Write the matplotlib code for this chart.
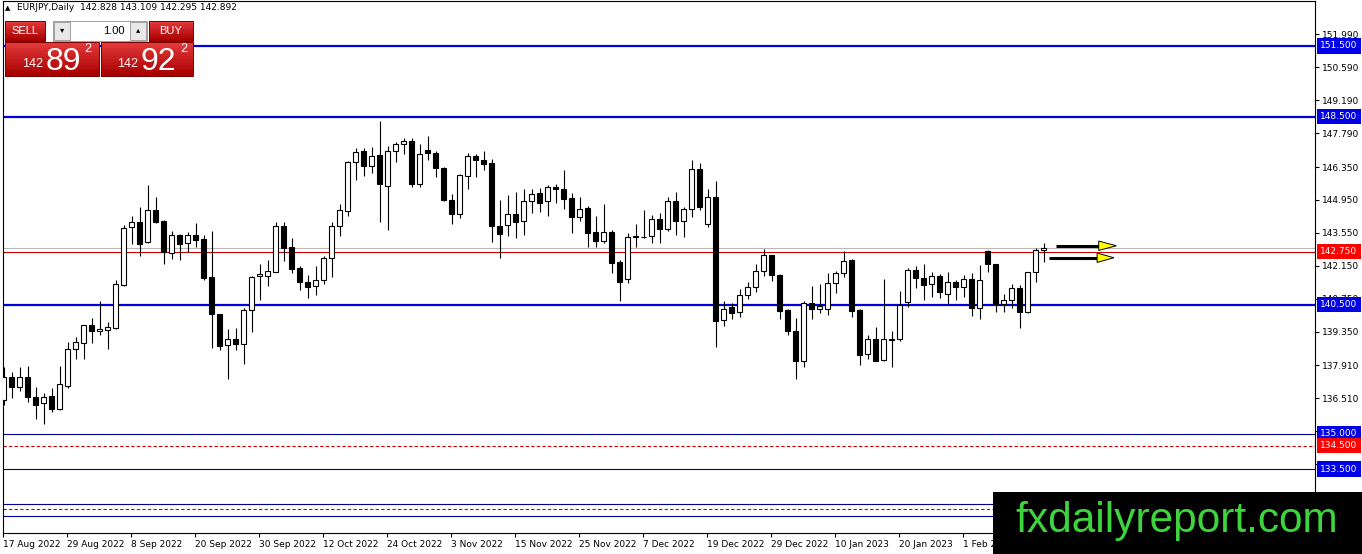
import matplotlib
matplotlib.use("Agg")
import matplotlib.pyplot as plt
from matplotlib.patches import Rectangle, Polygon
from matplotlib.transforms import blended_transform_factory
import numpy as np

# ---------------- data ----------------
opens = [136.44,137.40,136.98,137.40,136.58,136.29,136.61,136.07,137.03,138.59,
         138.88,139.61,139.36,139.40,139.50,141.35,143.78,144.00,143.16,144.51,
         144.05,142.69,143.46,143.12,143.46,143.29,141.67,140.08,138.78,139.03,
         138.80,140.25,141.70,141.73,141.90,143.83,142.95,142.04,141.44,141.27,
         141.53,142.46,143.83,144.48,146.55,147.03,146.38,146.86,145.53,147.03,
         147.32,147.46,145.64,147.09,146.95,146.30,144.96,144.37,145.95,146.80,
         146.66,146.52,143.83,143.88,144.37,144.04,144.89,145.23,144.89,145.49,
         145.40,145.03,144.21,144.61,143.58,143.19,143.58,142.31,141.60,143.41,
         143.39,143.41,144.15,143.73,144.92,144.04,144.58,146.28,143.93,145.09,
         139.84,140.38,140.18,140.92,141.23,141.91,142.59,141.77,140.27,139.39,
         138.08,140.55,140.30,140.32,141.40,141.83,142.39,140.27,138.39,139.05,
         138.14,139.03,139.02,140.62,141.98,141.64,141.36,141.73,140.93,141.44,
         141.24,141.58,140.36,142.78,142.21,140.54,140.68,141.22,140.17,141.87,
         142.828]
highs = [137.83,137.61,137.85,137.88,137.00,136.75,136.95,137.88,138.92,139.13,
         139.64,139.91,140.66,139.76,141.55,143.88,144.25,144.65,145.59,145.07,
         144.08,143.63,143.49,143.57,143.97,143.46,143.63,140.11,139.46,139.49,
         140.34,141.70,142.24,142.38,144.00,144.00,143.34,142.12,141.76,142.12,
         142.55,144.00,144.76,146.61,147.15,147.17,147.20,148.31,147.26,147.40,
         147.57,147.60,147.32,147.66,147.03,146.35,145.19,146.04,146.95,146.92,
         147.03,146.69,144.93,145.16,145.27,145.40,145.40,145.46,145.60,145.63,
         146.22,145.26,145.06,144.69,144.27,144.78,143.67,142.39,143.56,143.93,
         144.52,144.29,144.38,145.09,145.29,144.66,146.65,146.51,145.40,145.74,
         140.66,140.58,141.15,141.46,142.22,142.85,142.62,141.80,140.29,139.93,
         140.66,141.29,141.37,141.83,141.94,142.76,142.42,140.29,139.22,139.53,
         141.60,139.39,141.09,142.04,142.12,142.21,141.87,141.78,141.90,141.53,
         141.76,141.84,142.18,142.80,142.24,140.93,141.36,141.33,141.90,142.89,
         143.109]
lows = [136.22,136.51,136.83,136.34,135.64,135.42,135.94,136.01,136.93,138.20,
        138.20,138.88,139.19,138.62,139.47,141.28,143.07,142.55,143.13,143.95,
        142.21,142.44,142.41,142.72,142.95,141.56,138.63,138.58,137.33,138.55,
        137.98,139.34,140.70,141.30,141.88,142.35,141.84,141.13,140.79,140.90,
        141.36,141.67,143.40,144.28,145.78,145.98,146.10,144.02,143.68,146.55,
        146.89,145.50,145.50,146.63,145.93,144.90,143.94,144.17,145.41,145.93,
        146.21,143.15,142.49,143.40,143.34,143.47,144.38,144.44,144.27,144.80,
        144.55,143.56,144.07,142.96,142.93,143.10,141.83,140.66,141.43,142.96,
        143.33,143.13,143.10,143.61,143.44,143.39,144.21,144.52,143.81,138.71,
        139.58,139.87,139.98,140.72,141.03,141.71,141.49,139.90,139.22,137.32,
        137.83,139.90,140.15,140.07,141.00,141.68,139.95,137.94,138.17,138.08,
        138.11,137.86,138.96,140.39,141.19,140.68,140.82,140.76,140.51,140.68,
        140.82,139.99,139.88,141.90,140.19,140.19,140.36,139.49,140.14,141.44,
        142.295]
closes = [137.40,136.98,137.40,136.58,136.24,136.58,136.07,137.12,138.59,138.90,
          139.61,139.36,139.47,139.53,141.37,143.76,144.00,143.06,144.51,144.03,
          142.75,143.46,143.06,143.46,143.23,141.64,140.08,138.75,139.03,138.80,
          140.28,141.67,141.78,141.93,143.83,142.92,142.01,141.47,141.24,141.56,
          142.46,143.83,144.51,146.55,147.00,146.38,146.83,145.64,147.03,147.32,
          147.46,145.64,146.89,146.95,146.30,144.96,144.37,146.01,146.80,146.63,
          146.49,143.83,143.51,144.37,144.02,144.89,145.20,144.83,145.49,145.40,
          145.00,144.21,144.58,143.56,143.19,143.58,142.28,141.46,143.39,143.38,
          143.36,144.15,143.73,144.92,144.04,144.58,146.28,144.63,145.09,139.81,
          140.32,140.15,140.92,141.23,141.91,142.59,141.74,140.24,139.36,138.08,
          140.55,140.30,140.44,141.40,141.83,142.37,140.21,138.37,139.05,138.11,
          139.02,139.01,140.47,141.98,141.61,141.33,141.73,141.05,141.44,141.24,
          141.58,140.36,141.53,142.21,140.54,140.68,141.22,140.17,141.87,142.83,
          142.892]

date_labels = ["17 Aug 2022", "29 Aug 2022", "8 Sep 2022", "20 Sep 2022", "30 Sep 2022",
               "12 Oct 2022", "24 Oct 2022", "3 Nov 2022", "15 Nov 2022", "25 Nov 2022",
               "7 Dec 2022", "19 Dec 2022", "29 Dec 2022", "10 Jan 2023", "20 Jan 2023",
               "1 Feb 2023"]
price_ticks = [151.990, 150.590, 149.190, 147.790, 146.350, 144.950, 143.550, 142.150,
               140.750, 139.350, 137.910, 136.510, 135.110, 133.710]

blue_thick_levels = [151.5, 148.5, 140.5]
blue_thin_levels = [135.0, 133.5, 132.0, 131.5]
red_dashed_levels = [134.5, 131.78]
red_line_level = 142.75
bid_level = 142.892

# labelled levels (price, color)
level_labels = [(151.5, "#0000e6"), (148.5, "#0000e6"), (142.75, "#ff0000"),
                (140.5, "#0000e6"), (135.0, "#0000e6"), (134.5, "#ff0000"),
                (133.5, "#0000e6")]

header = "EURJPY,Daily  142.828 143.109 142.295 142.892"
sell_big, buy_big = "89", "92"
sell_small, buy_small = "142", "142"

# ---------------- figure ----------------
W, H = 1362, 554
fig = plt.figure(figsize=(W / 100, H / 100), dpi=100)
fig.patch.set_facecolor("white")

ax_left, ax_right, ax_top, ax_bot = 2.7, 1315.0, 0.5, 532.7
ax = fig.add_axes([ax_left / W, 1 - ax_bot / H, (ax_right - ax_left) / W, (ax_bot - ax_top) / H])
ax.set_facecolor("white")
for s in ax.spines.values():
    s.set_color("black")
    s.set_linewidth(0.8)

n = len(opens)
x = np.arange(n)
o = np.array(opens); c = np.array(closes); h = np.array(highs); l = np.array(lows)

# wicks
ax.vlines(x, l, h, color="black", linewidth=0.8, zorder=3)
up = c >= o
body_bottom = np.minimum(o, c)
body_height = np.abs(c - o)
ax.bar(x[up], body_height[up], bottom=body_bottom[up], width=0.6,
       facecolor="white", edgecolor="black", linewidth=0.8, zorder=4)
ax.bar(x[~up], body_height[~up], bottom=body_bottom[~up], width=0.6,
       facecolor="black", edgecolor="black", linewidth=0.8, zorder=4)

# horizontal levels
for lv in blue_thick_levels:
    ax.axhline(lv, color="#0000dd", linewidth=1.6, zorder=2)
for lv in blue_thin_levels:
    ax.axhline(lv, color="#000090", linewidth=0.8, zorder=2)
for lv in red_dashed_levels:
    ax.axhline(lv, color="#cc0000", linewidth=0.8, linestyle=(0, (3, 2)), zorder=2)
ax.axhline(bid_level, color="#b8b8b8", linewidth=0.8, zorder=2)
ax.axhline(red_line_level, color="#cc0000", linewidth=0.8, zorder=2)

# arrows (annotation)
arrow_specs = [(131.6, 136.9, 139.1, 143.00), (130.7, 136.7, 138.8, 142.49)]
for xs, xh, xt, py in arrow_specs:
    ax.plot([xs, xh], [py, py], color="black", linewidth=2.2, zorder=5, solid_capstyle="butt")
    ax.add_patch(Polygon([[xh, py + 0.2], [xh, py - 0.2], [xt, py]], closed=True,
                         facecolor="#ffff00", edgecolor="black", linewidth=0.7, zorder=6))

ax.set_xlim((ax_left - 3.5) / 8, (ax_right - 3.5) / 8)
ytop = 151.5 + (46 - ax_top) / 23.5
ybot = 151.5 - (ax_bot - 46) / 23.5
ax.set_ylim(ybot, ytop)

# y axis on right
ax.yaxis.tick_right()
ax.set_yticks(price_ticks)
ax.set_yticklabels([f"{v:.3f}" for v in price_ticks])
ax.tick_params(axis="y", direction="out", length=3, width=0.8, pad=2,
               labelsize=6.5, colors="black")

# x axis
ax.set_xticks([8 * k - 0.1 for k in range(len(date_labels))])
ax.set_xticklabels(date_labels)
ax.tick_params(axis="x", direction="out", length=3, width=0.8, pad=2, labelsize=6.5)
for lab in ax.get_xticklabels():
    lab.set_horizontalalignment("left")

# level labels on right axis (drawn over the tick labels, like the terminal)
tr = blended_transform_factory(ax.transAxes, ax.transData)
for lv, col in level_labels:
    ax.text(1.0040, lv, f"{lv:.3f}", transform=tr, ha="left", va="center",
            fontsize=6.5, color="white", clip_on=False, zorder=10,
            bbox=dict(boxstyle="square,pad=0.36", facecolor=col, edgecolor="none"))

# ---------------- header + trade panel ----------------
def frect(x0, y0, w, hgt, **kw):
    r = Rectangle((x0 / W, 1 - (y0 + hgt) / H), w / W, hgt / H, transform=fig.transFigure, **kw)
    fig.add_artist(r)
    return r

def gradient_box(x0, y0, w, hgt, top="#e23a3a", bottom="#a80000", strips=12):
    t = np.array(matplotlib.colors.to_rgb(top)); b = np.array(matplotlib.colors.to_rgb(bottom))
    for k in range(strips):
        f = k / (strips - 1)
        frect(x0, y0 + k * hgt / strips, w, hgt / strips + 0.6,
              facecolor=tuple(t * (1 - f) + b * f), edgecolor="none", zorder=20)
    frect(x0, y0, w, hgt, facecolor="none", edgecolor="#7a0000", linewidth=0.7, zorder=21)

def ftext(xp, yp, s, **kw):
    fig.text(xp / W, 1 - yp / H, s, **kw)

ftext(5, 8, "\u25B2", fontsize=5, va="center", ha="left", color="black", zorder=25)
ftext(17, 8, header, fontsize=6.5, va="center", ha="left", color="black", zorder=25,
      family="DejaVu Sans")

gradient_box(5, 21, 40, 20)
ftext(25, 31, "SELL", fontsize=8, color="white", ha="center", va="center", zorder=25,
      family="Liberation Sans")
gradient_box(149, 21, 44, 20)
ftext(171, 31, "BUY", fontsize=8, color="white", ha="center", va="center", zorder=25,
      family="Liberation Sans")
frect(53, 21, 94, 20, facecolor="white", edgecolor="#a0a0a0", linewidth=0.7, zorder=20)
frect(54, 22, 16, 18, facecolor="#e8e8e8", edgecolor="#a0a0a0", linewidth=0.7, zorder=21)
frect(130, 22, 16, 18, facecolor="#e8e8e8", edgecolor="#a0a0a0", linewidth=0.7, zorder=21)
ftext(62, 30, "\u25BE", fontsize=6, color="black", ha="center", va="center", zorder=25)
ftext(138, 30, "\u25B4", fontsize=6, color="black", ha="center", va="center", zorder=25)
ftext(125, 31, "1.00", fontsize=8, color="black", ha="right", va="center", zorder=25,
      family="Liberation Sans")

gradient_box(5, 42, 94, 34)
gradient_box(101, 42, 92, 34)
ftext(22, 67, sell_small, fontsize=9, color="white", ha="left", va="baseline", zorder=25,
      family="Liberation Sans")
ftext(46, 70, sell_big, fontsize=23, color="white", ha="left", va="baseline", zorder=25,
      family="Liberation Sans")
ftext(84, 52, "2", fontsize=9, color="white", ha="left", va="baseline", zorder=25,
      family="Liberation Sans")
ftext(117, 67, buy_small, fontsize=9, color="white", ha="left", va="baseline", zorder=25,
      family="Liberation Sans")
ftext(141, 70, buy_big, fontsize=23, color="white", ha="left", va="baseline", zorder=25,
      family="Liberation Sans")
ftext(180, 52, "2", fontsize=9, color="white", ha="left", va="baseline", zorder=25,
      family="Liberation Sans")

# ---------------- watermark logo ----------------
frect(993, 492, W - 993, H - 492, facecolor="black", edgecolor="none", zorder=30)
ftext(1177, 521, "fxdailyreport.com", fontsize=30.5, color="#3dd43d", ha="center", va="center",
      zorder=31, family="Liberation Sans")

fig.savefig("out.png", dpi=100, facecolor="white")
